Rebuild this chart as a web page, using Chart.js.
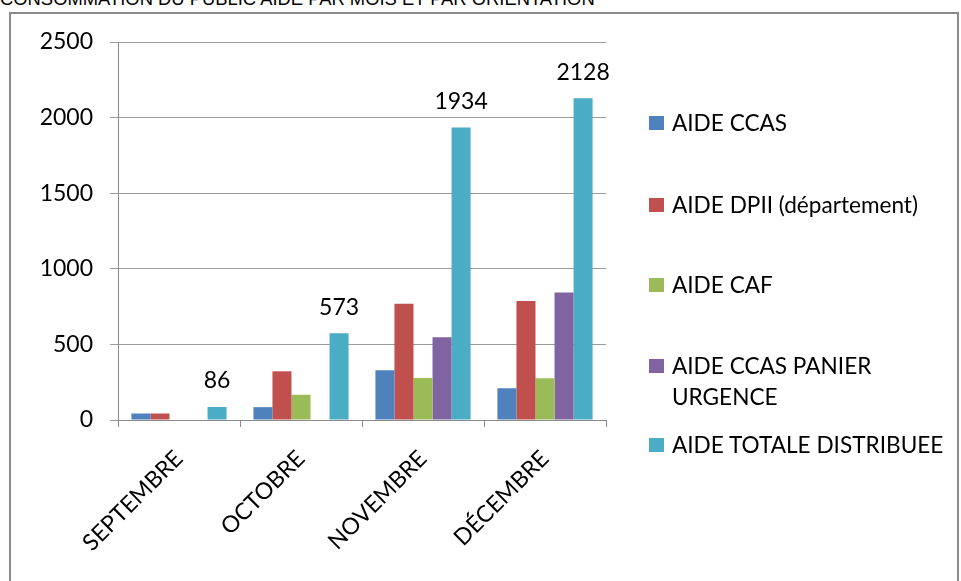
<!DOCTYPE html>
<html>
<head>
<meta charset="utf-8">
<script src="https://cdn.jsdelivr.net/npm/chart.js@4/dist/chart.umd.min.js"></script>
<style>
  html, body { margin: 0; padding: 0; background: #fff; overflow: hidden; }
  #wrap { position: relative; width: 961px; height: 581px; }
  #title {
    position: absolute; left: 0; top: -12px; white-space: nowrap;
    font: 18.4px/21px "Liberation Sans", Arial, sans-serif; color: #000;
  }
  #frame {
    position: absolute; left: 9px; top: 12px; width: 950px; height: 600px;
    border: 2px solid #8c8c8c; box-sizing: border-box;
  }
  #chartCanvas { position: absolute; left: 0; top: 0; }
  #legend {
    position: absolute; left: 649px; top: 0; width: 310px;
    font: 22.6px Lato, "Open Sans", sans-serif; color: #000;
  }
  .item { position: absolute; left: 0; display: flex; align-items: flex-start; }
  .swatch { width: 15px; height: 14px; margin-top: 9px; margin-right: 8px; flex: none; }
  .item span { line-height: 31px; }
</style>
</head>
<body>
<div id="wrap">
  <div id="title">CONSOMMATION DU PUBLIC AIDE PAR MOIS ET PAR ORIENTATION</div>
  <div id="frame"></div>
  <canvas id="chartCanvas" width="961" height="581"></canvas>
  <div id="legend"></div>
</div>
<script>
// Categories and series values
const months = ['SEPTEMBRE', 'OCTOBRE', 'NOVEMBRE', 'DÉCEMBRE'];
const aideCcas = [43, 85, 329, 210];
const aideDpii = [43, 322, 769, 787];
const aideCaf = [null, 167, 278, 276];
const aidePanier = [null, null, 547, 844];
const aideTotale = [86, 573, 1934, 2128];
const seriesNames = ['AIDE CCAS', 'AIDE DPII (département)', 'AIDE CAF', 'AIDE CCAS PANIER URGENCE', 'AIDE TOTALE DISTRIBUEE'];
const seriesColors = ['#4F81BD', '#C0504D', '#9BBB59', '#8064A2', '#4BACC6'];
const yTicks = [0, 500, 1000, 1500, 2000, 2500];

const fontFamily = 'Lato, "Open Sans", sans-serif';
const seriesData = [aideCcas, aideDpii, aideCaf, aidePanier, aideTotale];

// Draw the value labels above the total bars
const totalLabels = {
  id: 'totalLabels',
  afterDatasetsDraw(chart) {
    const ctx = chart.ctx;
    const meta = chart.getDatasetMeta(4);
    ctx.save();
    ctx.font = '23px ' + fontFamily;
    ctx.fillStyle = '#000';
    ctx.textAlign = 'center';
    ctx.textBaseline = 'middle';
    meta.data.forEach((bar, i) => {
      ctx.fillText(String(aideTotale[i]), bar.x, bar.y - 26);
    });
    ctx.restore();
  }
};

const chartCanvas = document.getElementById('chartCanvas');
const chartContext = chartCanvas.getContext('2d');

const barChart = new Chart(chartContext, {
  type: 'bar',
  data: {
    labels: months,
    datasets: seriesData.map((values, i) => ({
      label: seriesNames[i],
      data: values,
      backgroundColor: seriesColors[i],
      borderWidth: 0,
      categoryPercentage: 0.78,
      barPercentage: 1
    }))
  },
  options: {
    responsive: false,
    animation: false,
    devicePixelRatio: 1,
    layout: { padding: { left: 10, top: 42, right: 355, bottom: 0 } },
    plugins: {
      legend: { display: false },
      tooltip: { enabled: false }
    },
    scales: {
      x: {
        grid: {
          offset: true,
          drawOnChartArea: false,
          drawTicks: true,
          tickLength: 7,
          color: '#8c8c8c'
        },
        border: { color: '#8c8c8c' },
        ticks: {
          color: '#000',
          font: { family: fontFamily, size: 23 },
          maxRotation: 45,
          minRotation: 45,
          padding: 18
        },
        afterFit(scale) { scale.height = 161; }
      },
      y: {
        min: 0,
        max: 2500,
        afterBuildTicks(scale) { scale.ticks = yTicks.map(v => ({ value: v })); },
        grid: { color: '#9a9a9a', tickLength: 8 },
        border: { color: '#8c8c8c' },
        ticks: {
          color: '#000',
          font: { family: fontFamily, size: 23 },
          padding: 17,
          callback: v => String(v)
        },
        afterFit(scale) { scale.width = 108; }
      }
    }
  },
  plugins: [totalLabels]
});

// Legend built as HTML on the right
const legendRows = [
  { top: 107, lines: ['AIDE CCAS'] },
  { top: 189, lines: ['AIDE DPII (département)'] },
  { top: 269, lines: ['AIDE CAF'] },
  { top: 350, lines: ['AIDE CCAS PANIER', 'URGENCE'] },
  { top: 429, lines: ['AIDE TOTALE DISTRIBUEE'] }
];
const legend = document.getElementById('legend');
legendRows.forEach((row, i) => {
  const item = document.createElement('div');
  item.className = 'item';
  item.style.top = row.top + 'px';
  const sw = document.createElement('div');
  sw.className = 'swatch';
  sw.style.background = seriesColors[i];
  const txt = document.createElement('span');
  txt.innerHTML = row.lines.join('<br>');
  item.appendChild(sw);
  item.appendChild(txt);
  legend.appendChild(item);
});
</script>
</body>
</html>
